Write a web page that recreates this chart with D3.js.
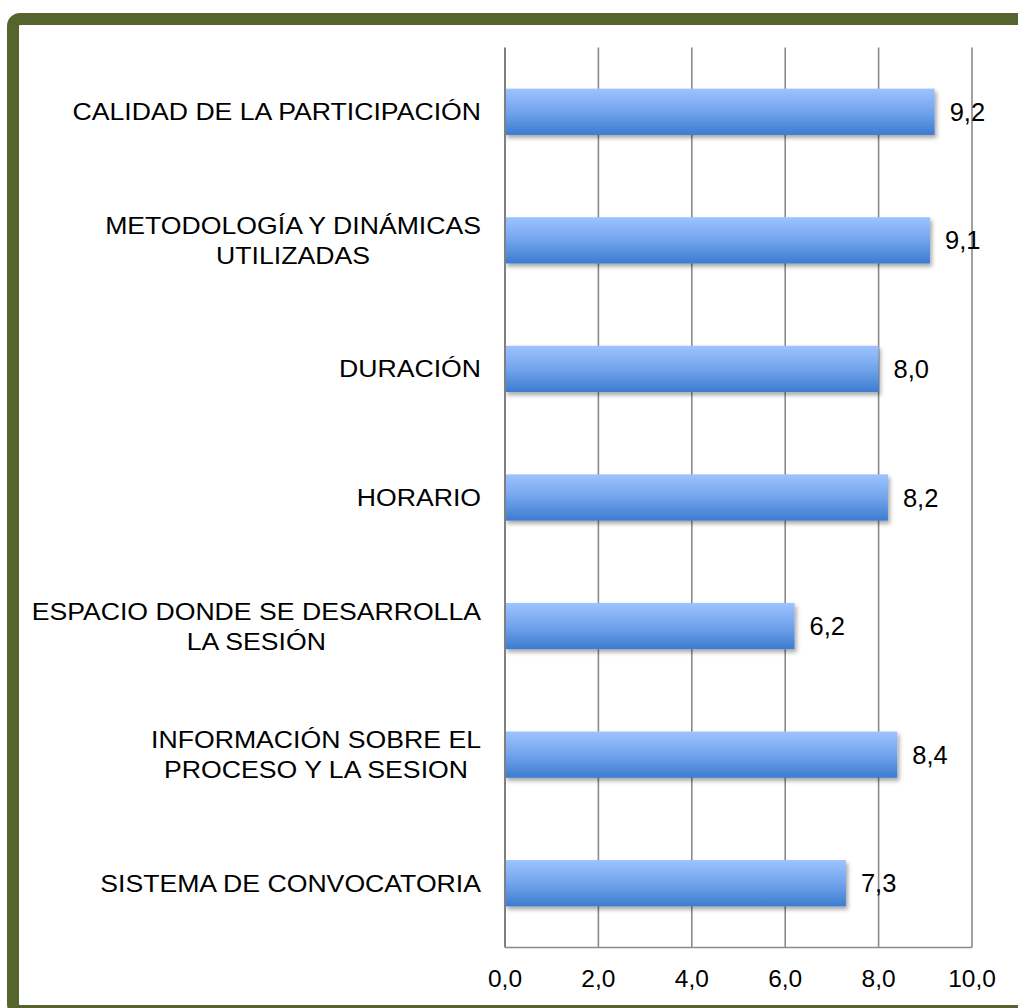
<!DOCTYPE html>
<html>
<head>
<meta charset="utf-8">
<script src="https://cdn.jsdelivr.net/npm/d3@7"></script>
<style>
  html, body { margin: 0; padding: 0; background: #fff; }
  svg { display: block; }
  text { font-family: "Liberation Sans", Arial, sans-serif; fill: #000; }
</style>
</head>
<body>
<svg id="chart" width="1018" height="1008"></svg>
<script>
// Survey ratings (0–10) for each aspect of the session
const categoryLines = [
  ["CALIDAD DE LA PARTICIPACIÓN"],
  ["METODOLOGÍA Y DINÁMICAS", "UTILIZADAS"],
  ["DURACIÓN"],
  ["HORARIO"],
  ["ESPACIO DONDE SE DESARROLLA", "LA SESIÓN"],
  ["INFORMACIÓN SOBRE EL", "PROCESO Y LA SESION "],
  ["SISTEMA DE CONVOCATORIA"]
];
const values = [9.2, 9.1, 8.0, 8.2, 6.2, 8.4, 7.3];
const tickValues = [0, 2, 4, 6, 8, 10];

const svg = d3.select("#chart");
const fmt = d3.formatLocale({ decimal: ",", thousands: ".", grouping: [3], currency: ["", "€"] }).format(".1f");

const plot = { left: 505, right: 972, top: 47.5, bottom: 947.5 };

const x = d3.scaleLinear().domain([0, 10]).range([plot.left, plot.right]);
const y = d3.scaleBand()
  .domain(d3.range(values.length))
  .range([plot.top, plot.bottom])
  .paddingInner(0.64)
  .paddingOuter(0.32);

// Defs: bar gradient and soft shadow
const defs = svg.append("defs");
const grad = defs.append("linearGradient")
  .attr("id", "barGrad").attr("x1", 0).attr("y1", 0).attr("x2", 0).attr("y2", 1);
grad.append("stop").attr("offset", "0%").attr("stop-color", "#9dc3ff");
grad.append("stop").attr("offset", "50%").attr("stop-color", "#72a4ec");
grad.append("stop").attr("offset", "100%").attr("stop-color", "#3c7ccf");

const shadow = defs.append("filter").attr("id", "barShadow")
  .attr("x", "-5%").attr("y", "-20%").attr("width", "115%").attr("height", "160%");
shadow.append("feDropShadow")
  .attr("dx", 2).attr("dy", 3).attr("stdDeviation", 2.2)
  .attr("flood-color", "#000").attr("flood-opacity", 0.35);

// Outer frame (runs past the right and bottom edges of the view)
svg.append("rect")
  .attr("x", 13).attr("y", 19)
  .attr("width", 1040).attr("height", 992)
  .attr("rx", 7).attr("ry", 7)
  .attr("fill", "#fff")
  .attr("stroke", "#55652d")
  .attr("stroke-width", 12);

// Vertical gridlines
svg.append("g")
  .selectAll("line")
  .data(tickValues.filter(d => d > 0))
  .join("line")
  .attr("x1", d => x(d)).attr("x2", d => x(d))
  .attr("y1", plot.top).attr("y2", plot.bottom)
  .attr("stroke", "#8a8a8a").attr("stroke-width", 1.6);

// Bottom axis line
svg.append("line")
  .attr("x1", x(0)).attr("x2", x(10))
  .attr("y1", plot.bottom).attr("y2", plot.bottom)
  .attr("stroke", "#8a8a8a").attr("stroke-width", 1.6);

// Bars
svg.append("g")
  .selectAll("rect")
  .data(values)
  .join("rect")
  .attr("x", x(0))
  .attr("y", (d, i) => y(i))
  .attr("width", d => x(d) - x(0))
  .attr("height", y.bandwidth())
  .attr("fill", "url(#barGrad)")
  .attr("filter", "url(#barShadow)");

// Category axis line
svg.append("line")
  .attr("x1", x(0)).attr("x2", x(0))
  .attr("y1", plot.top).attr("y2", plot.bottom)
  .attr("stroke", "#808080").attr("stroke-width", 2);

// Value labels
svg.append("g")
  .selectAll("text")
  .data(values)
  .join("text")
  .attr("x", d => x(d) + 15)
  .attr("y", (d, i) => y(i) + y.bandwidth() / 2 + 9)
  .attr("font-size", 25.5)
  .text(d => fmt(d));

// Tick labels
svg.append("g")
  .selectAll("text")
  .data(tickValues)
  .join("text")
  .attr("x", d => x(d))
  .attr("y", 987)
  .attr("text-anchor", "middle")
  .attr("font-size", 24.5)
  .text(d => fmt(d));

// Category labels: right-aligned block, lines centred within the block,
// set in a slightly widened face
const labelRight = 481;
const stretch = 1.11;
const lineHeight = 30;
const catG = svg.append("g")
  .attr("transform", `translate(${labelRight},0) scale(${stretch},1)`);
categoryLines.forEach((lines, i) => {
  const cy = y(i) + y.bandwidth() / 2;
  const t = catG.append("text").attr("font-size", 24).attr("text-anchor", "middle");
  const n = lines.length;
  const spans = lines.map((line, k) =>
    t.append("tspan")
      .attr("y", cy + 8.5 + (k - (n - 1) / 2) * lineHeight)
      .text(line)
  );
  const w = d3.max(spans, s => s.node().getComputedTextLength());
  spans.forEach(s => s.attr("x", -w / 2));
});
</script>
</body>
</html>
